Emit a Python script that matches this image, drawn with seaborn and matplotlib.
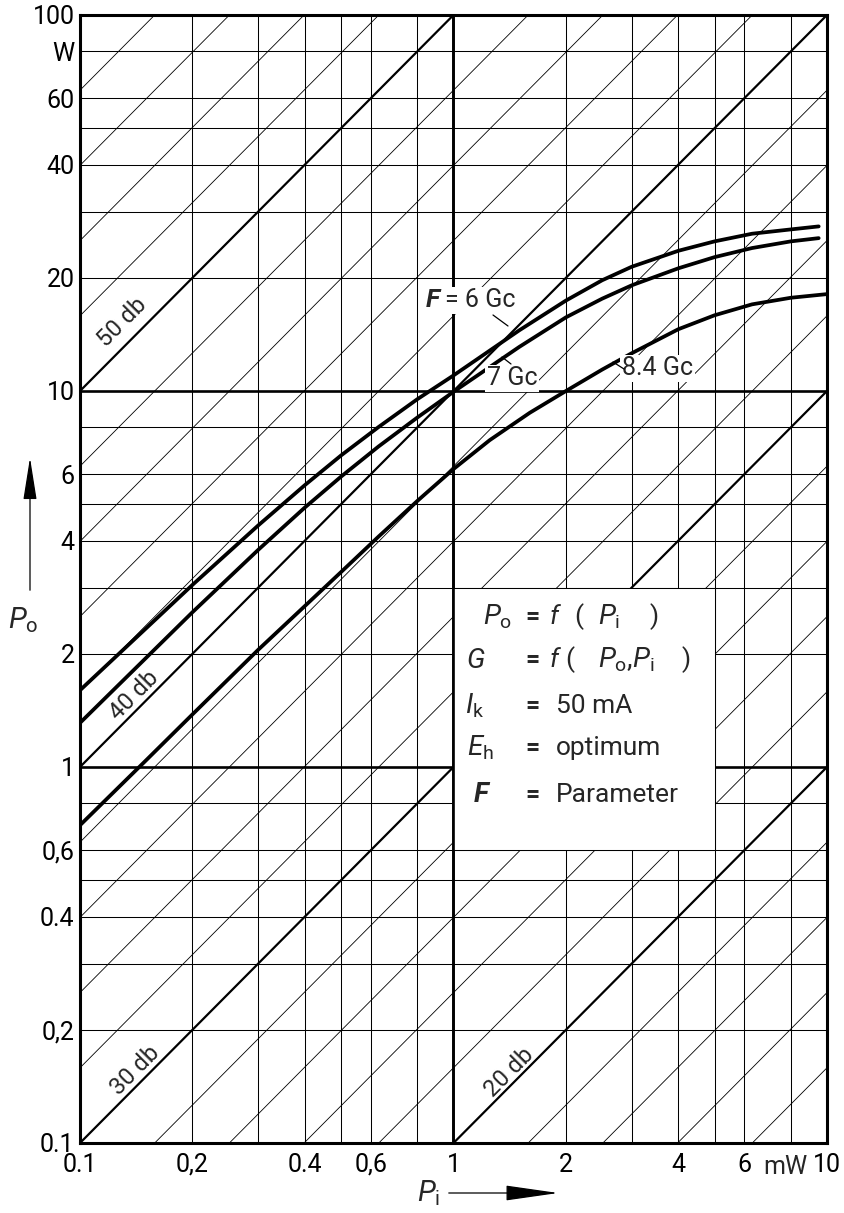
import numpy as np
import pandas as pd
import matplotlib
matplotlib.use("Agg")
import matplotlib.pyplot as plt
import seaborn as sns
from matplotlib.patches import Rectangle, FancyArrowPatch
from matplotlib.lines import Line2D

# Output power P_o (W) versus input power P_i (mW), frequency F as parameter
pi_6gc = [0.1, 0.2, 0.3, 0.4, 0.5, 0.63, 0.8, 1.0, 1.5, 2.0, 2.5, 3.0, 4.0,
          5.0, 6.3, 8.0, 9.5]
po_6gc = [1.60, 3.05, 4.39, 5.62, 6.74, 8.02, 9.51, 11.0, 14.5, 17.4, 19.7,
          21.4, 23.6, 25.0, 26.2, 26.9, 27.4]

pi_7gc = [0.1, 0.2, 0.3, 0.4, 0.5, 0.63, 0.8, 1.0, 1.5, 2.0, 2.5, 3.0, 4.0,
          5.0, 6.3, 8.0, 9.5]
po_7gc = [1.31, 2.58, 3.78, 4.90, 5.92, 7.12, 8.5, 9.95, 13.1, 15.7, 17.6,
          19.1, 21.2, 22.7, 24.0, 25.0, 25.5]

pi_84gc = [0.1, 0.15, 0.2, 0.3, 0.4, 0.5, 0.63, 0.8, 1.0, 1.25, 1.6, 2.0,
           2.5, 3.0, 4.0, 5.0, 6.3, 8.0, 10.0]
po_84gc = [0.70, 1.04, 1.38, 2.05, 2.68, 3.3, 4.1, 5.1, 6.2, 7.4, 8.75, 10.0,
           11.4, 12.6, 14.6, 15.9, 17.0, 17.7, 18.1]

frequencies = ["6 Gc", "7 Gc", "8.4 Gc"]

# constant-gain lines (db) drawn across the chart
gain_db = [10, 12, 14, 16, 18, 20, 22, 24, 26, 28, 30, 32, 34, 36, 38,
           40, 42, 44, 46, 48, 50, 52, 54, 56, 58, 60]
gain_db_bold = [20, 30, 40, 50, 60]
gain_labels = ["50 db", "40 db", "30 db", "20 db"]

# chart paper rulings
x_grid = [0.2, 0.3, 0.4, 0.5, 0.6, 0.8, 2, 3, 4, 5, 6, 8]
y_grid = [0.2, 0.3, 0.4, 0.5, 0.6, 0.8, 2, 3, 4, 5, 6, 8, 20, 30, 40, 50, 60, 80]
x_major = [1]
y_major = [1, 10]

x_ticks = [0.1, 0.2, 0.4, 0.6, 1, 2, 4, 6, 10]
x_ticklabels = ["0.1", "0,2", "0.4", "0,6", "1", "2", "4", "6", "10"]
y_ticks = [0.1, 0.2, 0.4, 0.6, 1, 2, 4, 6, 10, 20, 40, 60, 80, 100]
y_ticklabels = ["0.1", "0,2", "0.4", "0,6", "1", "2", "4", "6", "10",
                "20", "40", "60", "W", "100"]

sns.set_theme(style="white")
plt.rcParams["font.family"] = "sans-serif"
plt.rcParams["font.sans-serif"] = ["Roboto", "DejaVu Sans"]
plt.rcParams["mathtext.fontset"] = "custom"
plt.rcParams["mathtext.rm"] = "sans"
plt.rcParams["mathtext.it"] = "sans:italic"
plt.rcParams["mathtext.bf"] = "sans:bold"

W, H = 845, 1213
fig = plt.figure(figsize=(W / 100, H / 100), dpi=100)
fig.patch.set_facecolor("white")
ax = fig.add_axes([80 / W, 1 - 1143 / H, (827 - 80) / W, (1143 - 15) / H])
ax.set_xscale("log")
ax.set_yscale("log")
ax.set_xlim(0.1, 10)
ax.set_ylim(0.1, 100)

# grid rulings
for xv in x_grid:
    ax.axvline(xv, color="black", lw=0.75, zorder=1)
for yv in y_grid:
    ax.axhline(yv, color="black", lw=0.75, zorder=1)
for xv in x_major:
    ax.axvline(xv, color="black", lw=1.9, zorder=1.2)
for yv in y_major:
    ax.axhline(yv, color="black", lw=1.9, zorder=1.2)

# constant-gain diagonals: P_o[W] = P_i[mW] * 10^(G/10) / 1000
p_in_span = np.array([0.1, 10.0])
for db in gain_db:
    bold = db in gain_db_bold
    ax.plot(p_in_span, p_in_span * 10 ** (db / 10) / 1000, color="black",
            lw=1.6 if bold else 0.6, zorder=1.3 if bold else 1.1,
            solid_capstyle="butt")

# parameter box
box = Rectangle((1.0, 0.6), 4.0, 2.4, facecolor="white", edgecolor="black",
                lw=0.75, zorder=2)
ax.add_patch(box)
ax.axvline(1, color="black", lw=1.9, zorder=2.2)

# curves
df = pd.concat([
    pd.DataFrame({"P_i": pi_6gc, "P_o": po_6gc, "F": frequencies[0]}),
    pd.DataFrame({"P_i": pi_7gc, "P_o": po_7gc, "F": frequencies[1]}),
    pd.DataFrame({"P_i": pi_84gc, "P_o": po_84gc, "F": frequencies[2]}),
])
sns.lineplot(data=df, x="P_i", y="P_o", hue="F", palette=["black"] * 3,
             sort=False, estimator=None, legend=False, lw=2.7, ax=ax, zorder=3)
for ln in ax.lines[-3:]:
    ln.set_solid_joinstyle("round")
    ln.set_solid_capstyle("round")

# axes styling
for sp in ax.spines.values():
    sp.set_linewidth(2.2)
    sp.set_color("black")
    sp.set_zorder(4)
ax.xaxis.set_minor_locator(matplotlib.ticker.NullLocator())
ax.yaxis.set_minor_locator(matplotlib.ticker.NullLocator())
ax.set_xticks(x_ticks)
ax.set_xticklabels(x_ticklabels)
ax.set_yticks(y_ticks)
ax.set_yticklabels(y_ticklabels)
ax.tick_params(axis="x", length=0, pad=7, labelsize=18, colors="black")
ax.tick_params(axis="y", length=0, pad=4, labelsize=18, colors="black")
ax.set_xlabel("")
ax.set_ylabel("")

# "mW" unit beside the 6 tick
ax.text(7.75, -0.011, "mW", transform=ax.get_xaxis_transform(), ha="center",
        va="top", fontsize=18)

# gain labels along the diagonals
ang = 45.2
label_pos = [(0.13, 15.2), (0.14, 1.55), (0.141, 0.156), (1.41, 0.154)]
for (lx, ly), txt in zip(label_pos, gain_labels):
    ax.text(lx, ly, txt, rotation=ang, rotation_mode="anchor", ha="center",
            va="center", fontsize=17, zorder=5)


def ftxt(px, py, s, **kw):
    kw.setdefault("fontsize", 18)
    kw.setdefault("va", "center")
    kw.setdefault("ha", "left")
    return fig.text(px / W, 1 - py / H, s, **kw)


def fline(x0, y0, x1, y1, lw=0.9):
    fig.add_artist(Line2D([x0 / W, x1 / W], [1 - y0 / H, 1 - y1 / H],
                          transform=fig.transFigure, color="black", lw=lw,
                          zorder=6))


wbox = dict(facecolor="white", edgecolor="none", pad=1.0)

# curve labels
ftxt(426, 300, "F", fontweight="bold", style="italic", fontsize=19, zorder=6)
ftxt(445, 300, "= 6 Gc", bbox=wbox, zorder=5)
fline(493, 315, 508, 326)
ftxt(487, 378, "7 Gc", bbox=wbox, zorder=5)
fline(502, 357, 511, 364)
ftxt(622, 368, "8.4 Gc", bbox=wbox, zorder=5)
fline(613, 362, 624, 369)

# parameter box text
ftxt(483, 617, r"$P_\mathrm{o}$", fontsize=20)
ftxt(533, 617, "=", ha="center", fontweight="bold")
ftxt(549, 617, r"$f$", fontsize=19)
ftxt(574, 617, "(", fontsize=19)
ftxt(598, 617, r"$P_\mathrm{i}$", fontsize=20)
ftxt(650, 617, ")", fontsize=19)

ftxt(466, 660, r"$G$", fontsize=20)
ftxt(533, 660, "=", ha="center", fontweight="bold")
ftxt(549, 660, r"$f$", fontsize=19)
ftxt(565, 660, "(", fontsize=19)
ftxt(598, 660, r"$P_\mathrm{o}$,$P_\mathrm{i}$", fontsize=20)
ftxt(682, 660, ")", fontsize=19)

ftxt(465, 706, r"$I_\mathrm{k}$", fontsize=20)
ftxt(533, 706, "=", ha="center", fontweight="bold")
ftxt(556, 706, "50 mA", fontsize=19)

ftxt(467, 748, r"$E_\mathrm{h}$", fontsize=20)
ftxt(533, 748, "=", ha="center", fontweight="bold")
ftxt(556, 748, "optimum", fontsize=19)

ftxt(474, 795, "F", fontweight="bold", style="italic", fontsize=20)
ftxt(533, 795, "=", ha="center", fontweight="bold")
ftxt(556, 795, "Parameter", fontsize=19)

# axis titles with arrows
ftxt(23, 620, r"$P_\mathrm{o}$", ha="center", fontsize=21)
fig.add_artist(FancyArrowPatch((30 / W, 1 - 593 / H), (30 / W, 1 - 455 / H),
                               transform=fig.transFigure,
                               arrowstyle="-|>,head_length=2.2,head_width=0.35",
                               mutation_scale=12, color="black", lw=0.9))
ftxt(429, 1193, r"$P_\mathrm{i}$", ha="center", fontsize=21)
fig.add_artist(FancyArrowPatch((446 / W, 1 - 1193 / H), (561 / W, 1 - 1193 / H),
                               transform=fig.transFigure,
                               arrowstyle="-|>,head_length=2.8,head_width=0.4",
                               mutation_scale=12, color="black", lw=0.9))

fig.savefig("out.png", dpi=100, facecolor="white")
